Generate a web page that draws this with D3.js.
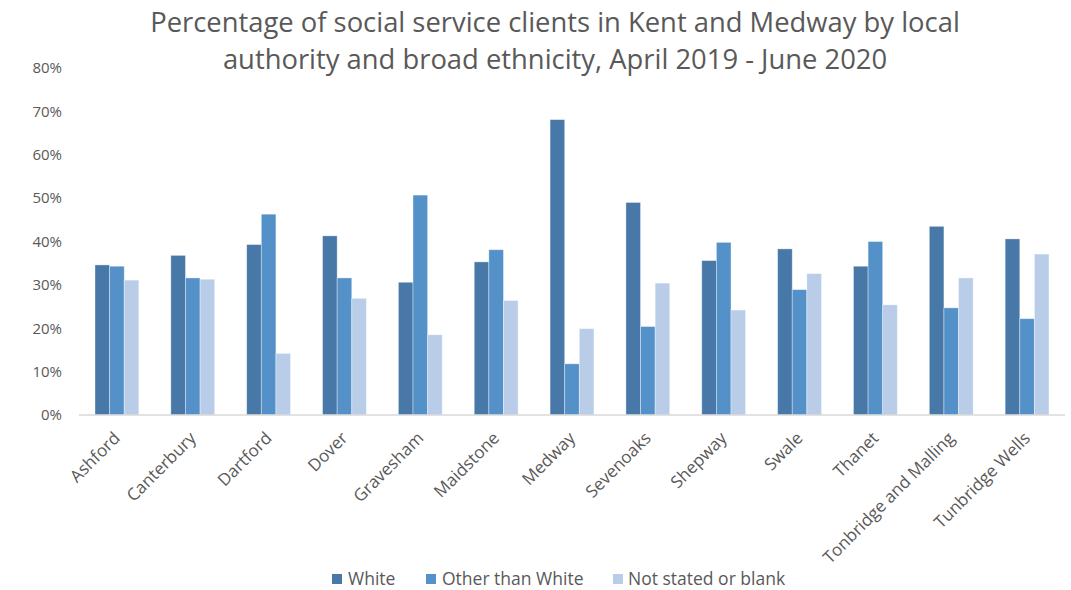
<!DOCTYPE html>
<html>
<head>
<meta charset="utf-8">
<script src="https://cdn.jsdelivr.net/npm/d3@7"></script>
<style>
  html, body { margin: 0; padding: 0; background: #fff; }
  svg { display: block; }
  text { font-family: "Open Sans", "Noto Sans", sans-serif; fill: #595959; }
</style>
</head>
<body>
<svg id="chart" width="1071" height="590"></svg>
<script>
const titleLines = [
  "Percentage of social service clients in Kent and Medway by local",
  "authority and broad ethnicity, April 2019 - June 2020"
];
const categories = ["Ashford", "Canterbury", "Dartford", "Dover", "Gravesham", "Maidstone",
  "Medway", "Sevenoaks", "Shepway", "Swale", "Thanet", "Tonbridge and Malling", "Tunbridge Wells"];
const seriesNames = ["White", "Other than White", "Not stated or blank"];
const white = [34.6, 36.8, 39.3, 41.3, 30.6, 35.3, 68.1, 49.0, 35.6, 38.3, 34.3, 43.5, 40.6];
const otherThanWhite = [34.3, 31.6, 46.3, 31.6, 50.7, 38.1, 11.8, 20.4, 39.8, 28.9, 40.0, 24.7, 22.2];
const notStated = [31.1, 31.3, 14.2, 26.9, 18.5, 26.4, 19.9, 30.4, 24.2, 32.6, 25.4, 31.6, 37.1];
const yTicks = [0, 10, 20, 30, 40, 50, 60, 70, 80];
const colors = ["#4878a8", "#5591c9", "#b9cde9"];

const seriesValues = [white, otherThanWhite, notStated];
const data = categories.map((c, i) => ({ cat: c, vals: seriesValues.map(s => s[i]) }));

const svg = d3.select("#chart");
const m = { left: 79, right: 1065, top: 68, bottom: 415 };

const x = d3.scaleBand().domain(categories).range([m.left, m.right]).paddingInner(2.19 / 5.19).paddingOuter(2.19 / 5.19 / 2);
const xs = d3.scaleBand().domain(d3.range(3)).range([0, x.bandwidth()]);
const y = d3.scaleLinear().domain([0, 80]).range([m.bottom, m.top]);

function fitWidth(sel, target) {
  sel.each(function () {
    const t = d3.select(this);
    const fs = parseFloat(t.style("font-size"));
    const w = this.getComputedTextLength();
    t.style("font-size", (fs * target / w) + "px");
  });
}

// Title
const title = svg.append("g");
const t1 = title.append("text").attr("x", 555).attr("y", 32).attr("text-anchor", "middle")
  .style("font-size", "24px").text(titleLines[0]);
fitWidth(t1, 810);
const t2 = title.append("text").attr("x", 555).attr("y", 69).attr("text-anchor", "middle")
  .style("font-size", t1.style("font-size")).text(titleLines[1]);

// Y axis labels (no axis line)
const yAxis = d3.axisLeft(y).tickValues(yTicks).tickFormat(d => d + "%").tickSize(0).tickPadding(17);
const yg = svg.append("g").attr("transform", `translate(${m.left},0)`).call(yAxis);
yg.select(".domain").remove();
yg.selectAll("text").style("font-size", "15px").style("fill", "#595959")
  .style("font-family", '"Open Sans", "Noto Sans", sans-serif');

// Bars
const groups = svg.append("g").selectAll("g").data(data).join("g")
  .attr("transform", d => `translate(${x(d.cat)},0)`);
groups.selectAll("rect").data(d => d.vals.map((v, k) => ({ v, k }))).join("rect")
  .attr("x", d => xs(d.k))
  .attr("width", xs.bandwidth())
  .attr("y", d => y(d.v))
  .attr("height", d => y(0) - y(d.v))
  .attr("fill", d => colors[d.k])
  .attr("stroke", "#ffffff").attr("stroke-opacity", 0.45).attr("stroke-width", 0.8);

// X axis
const xAxis = d3.axisBottom(x).tickSize(0).tickPadding(0);
const xg = svg.append("g").attr("transform", `translate(0,${m.bottom})`).call(xAxis);
xg.select(".domain").attr("stroke", "#d9d9d9").attr("stroke-width", 1.5)
  .attr("d", `M${m.left},0H${m.right}`);
xg.selectAll(".tick text")
  .style("font-size", "17px").style("fill", "#595959")
  .style("font-family", '"Open Sans", "Noto Sans", sans-serif')
  .attr("text-anchor", "end")
  .attr("transform", "translate(0,20) rotate(-45)")
  .attr("y", 0).attr("dy", "0.35em");

// Legend
const legendItems = [
  { name: seriesNames[0], sx: 332, tx: 348 },
  { name: seriesNames[1], sx: 426, tx: 442 },
  { name: seriesNames[2], sx: 613, tx: 628 }
];
const lg = svg.append("g");
legendItems.forEach((d, i) => {
  lg.append("rect").attr("x", d.sx).attr("y", 574).attr("width", 10).attr("height", 10).attr("fill", colors[i]);
  lg.append("text").attr("x", d.tx).attr("y", 585).style("font-size", "17.5px").text(d.name);
});
</script>
</body>
</html>
